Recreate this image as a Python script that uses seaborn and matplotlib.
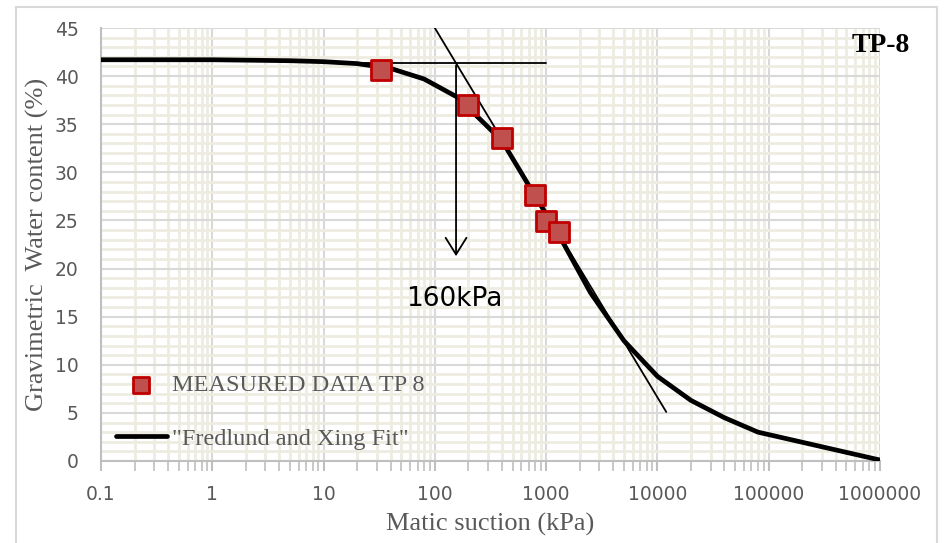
import numpy as np
import pandas as pd
import matplotlib
matplotlib.use("Agg")
import matplotlib.pyplot as plt
import seaborn as sns
from matplotlib.ticker import FixedLocator, FixedFormatter, LogLocator, NullFormatter, MultipleLocator
from matplotlib.patches import Rectangle

# ---- data ----
fit_suction = [0.1, 1, 5, 10, 20, 40, 80, 160, 400, 800, 1300, 2500, 5000, 10000, 20000, 40000, 80000, 1000000]
fit_wc = [41.7, 41.7, 41.6, 41.5, 41.3, 40.8, 39.7, 37.8, 33.3, 27.5, 23.5, 17.5, 12.5, 8.8, 6.3, 4.5, 3.0, 0.1]

meas_suction = [33, 200, 400, 800, 1000, 1300]
meas_wc = [40.6, 37.0, 33.6, 27.6, 24.9, 23.8]

tan_h_x = [20, 1000]
tan_h_y = [41.4, 41.4]
tan_s_x = [100, 12000]
tan_s_y = [45, 5.1]
air_entry = 155
arrow_top = 41.4
arrow_bottom = 21.0

x_ticks = [0.1, 1, 10, 100, 1000, 10000, 100000, 1000000]
x_tick_labels = ["0.1", "1", "10", "100", "1000", "10000", "100000", "1000000"]
y_ticks = [0, 5, 10, 15, 20, 25, 30, 35, 40, 45]

fit_df = pd.DataFrame({"suction": fit_suction, "wc": fit_wc})
meas_df = pd.DataFrame({"suction": meas_suction, "wc": meas_wc})

sns.set_theme(style="white")
plt.rcParams["font.family"] = ["DejaVu Sans"]

fig = plt.figure(figsize=(9.44, 5.43), dpi=100)
ax = fig.add_axes([101/944, 1 - 461/543, (880-101)/944, (461-28)/543])

# figure border
fig.patches.append(Rectangle((16/944, -0.05), (937-16)/944, 1.05 - 7/543,
                             transform=fig.transFigure, fill=False,
                             edgecolor="#d9d9d9", lw=1.5, zorder=0))

ax.set_xscale("log")
ax.set_xlim(0.1, 1000000)
ax.set_ylim(0, 45)

grid_minor = "#eeece1"
grid_major = "#d9d9d9"
ax.xaxis.set_major_locator(FixedLocator(x_ticks))
ax.xaxis.set_major_formatter(FixedFormatter(x_tick_labels))
ax.xaxis.set_minor_locator(LogLocator(base=10, subs=np.arange(2, 10)))
ax.xaxis.set_minor_formatter(NullFormatter())
ax.yaxis.set_major_locator(FixedLocator(y_ticks))
ax.yaxis.set_minor_locator(MultipleLocator(1))

ax.grid(which="minor", color=grid_minor, lw=2.0, zorder=0)
ax.grid(which="major", color=grid_major, lw=1.5, zorder=0)
ax.set_axisbelow(True)

for s in ["top", "right"]:
    ax.spines[s].set_visible(False)
for s in ["left", "bottom"]:
    ax.spines[s].set_color("#bfbfbf")
    ax.spines[s].set_linewidth(1.5)

ax.tick_params(axis="x", which="major", direction="out", length=7, width=1.5,
               color="#bfbfbf", labelsize=13.5, labelcolor="#595959", pad=10, bottom=True)
ax.tick_params(axis="x", which="minor", direction="out", length=7, width=1.2,
               color="#bfbfbf", bottom=True)
ax.tick_params(axis="y", which="both", length=0, labelsize=13.5, labelcolor="#595959", pad=16)

# tangent lines
ax.plot(tan_h_x, tan_h_y, color="black", lw=1.3, zorder=3)
ax.plot(tan_s_x, tan_s_y, color="black", lw=1.3, zorder=3)

# fit curve
sns.lineplot(data=fit_df, x="suction", y="wc", ax=ax, color="black", lw=3.4,
             label='"Fredlund and Xing Fit"', zorder=4, sort=False)

# measured data
sns.scatterplot(data=meas_df, x="suction", y="wc", ax=ax, marker="s", s=190,
                color="#c0504d", edgecolor="#c00000", linewidth=2,
                label="MEASURED DATA TP 8", zorder=5)

# arrow
ax.annotate("", xy=(air_entry, arrow_bottom), xytext=(air_entry, arrow_top),
            arrowprops=dict(arrowstyle="->,head_length=0.8,head_width=0.5",
                            color="black", lw=1.3, mutation_scale=15), zorder=6)
ax.text(air_entry * 0.97, 16.8, "160kPa", ha="center", va="center", fontsize=19,
        color="black", family="DejaVu Sans")

ax.set_xlabel("Matic suction (kPa)", family="Liberation Serif", fontsize=19,
              color="#595959", labelpad=7)
ax.set_ylabel("Gravimetric  Water content (%)", family="Liberation Serif", fontsize=19,
              color="#595959", labelpad=4)

fig.text(910/944, 1 - 45/543, "TP-8", family="Liberation Serif", fontsize=20,
         fontweight="bold", ha="right", va="center", color="black")

handles, labels = ax.get_legend_handles_labels()
order = [1, 0]
leg = ax.legend([handles[i] for i in order], [labels[i] for i in order],
                loc="lower left", bbox_to_anchor=(-0.009, -0.024), frameon=False,
                prop={"family": "Liberation Serif", "size": 17.5},
                handlelength=2.1, handletextpad=0.2, labelspacing=1.3,
                borderaxespad=0.5)
for t in leg.get_texts():
    t.set_color("#595959")
lh = leg.legend_handles
lh[0].set_sizes([120])

fig.savefig("out.png", dpi=100)
